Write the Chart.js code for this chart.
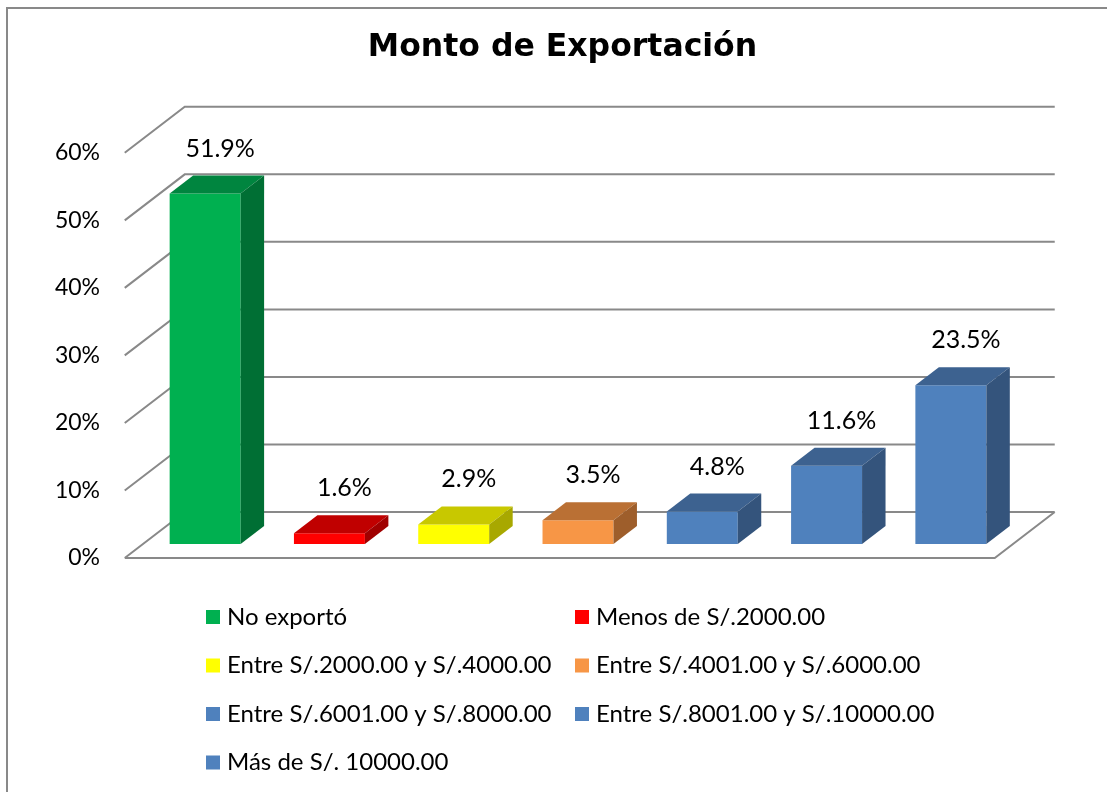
<html>
<head>
	<script src="https://cdn.jsdelivr.net/npm/chart.js@4/dist/chart.umd.min.js"></script>
	<style>
		body { margin: 0; background: #fff; }
	</style>
</head>
<body>
	<div style="width: 1107px; height: 792px">
		<canvas id="myChart"></canvas>
	</div>
</body>
<script>

const categories = [
  'No exportó',
  'Menos de S/.2000.00',
  'Entre S/.2000.00 y S/.4000.00',
  'Entre S/.4001.00 y S/.6000.00',
  'Entre S/.6001.00 y S/.8000.00',
  'Entre S/.8001.00 y S/.10000.00',
  'Más de S/. 10000.00'
];
const values = [51.9, 1.6, 2.9, 3.5, 4.8, 11.6, 23.5];
const yTicks = [0, 10, 20, 30, 40, 50, 60];

// front / top / side face of each 3d bar
const frontColors = ['#00B050', '#FF0000', '#FFFF00', '#F79646', '#4F81BD', '#4F81BD', '#4F81BD'];
const topColors = ['#00853F', '#C00000', '#C8C800', '#BA7034', '#3D6290', '#3D6290', '#3D6290'];
const sideColors = ['#006F34', '#A00000', '#A8A800', '#9E5E2B', '#34547C', '#34547C', '#34547C'];

const gridColor = '#898989';
const txtFont = 'Lato, "Open Sans", sans-serif';

// depth of the whole floor, and where the bars sit inside it
const depth = { x: 60, y: -46 };
const barFront = 14 / 46;
const barDepth = 18 / 46;

const box3d = {
  id: 'box3d',
  beforeDraw(chart) {
    const ctx = chart.ctx;
    ctx.save();
    ctx.strokeStyle = gridColor;
    ctx.lineWidth = 2;
    ctx.beginPath();
    ctx.moveTo(7, 800);
    ctx.lineTo(7, 8);
    ctx.lineTo(1107, 8);
    ctx.stroke();
    ctx.restore();
  },
  beforeDatasetsDraw(chart) {
    const ctx = chart.ctx;
    const area = chart.chartArea;
    const y = chart.scales.y;
    const fx = -barFront * depth.x, fy = -barFront * depth.y;
    const bx = (1 - barFront) * depth.x, by = (1 - barFront) * depth.y;
    ctx.save();
    ctx.strokeStyle = gridColor;
    ctx.lineWidth = 2;
    ctx.beginPath();
    yTicks.forEach(v => {
      const py = y.getPixelForValue(v);
      ctx.moveTo(area.left + fx, py + fy);
      ctx.lineTo(area.left + bx, py + by);
      ctx.lineTo(area.right + bx, py + by);
    });
    const p0 = y.getPixelForValue(0);
    ctx.moveTo(area.left + fx, p0 + fy);
    ctx.lineTo(area.right + fx, p0 + fy);
    ctx.lineTo(area.right + bx, p0 + by);
    ctx.stroke();
    ctx.restore();
  },
  afterDatasetsDraw(chart) {
    const ctx = chart.ctx;
    const dx = barDepth * depth.x, dy = barDepth * depth.y;
    const bars = chart.getDatasetMeta(0).data;
    ctx.save();
    bars.forEach((bar, i) => {
      const l = bar.x - bar.width / 2, r = bar.x + bar.width / 2;
      const t = bar.y, b = bar.base;
      ctx.fillStyle = topColors[i];
      ctx.beginPath();
      ctx.moveTo(l, t);
      ctx.lineTo(l + dx, t + dy);
      ctx.lineTo(r + dx, t + dy);
      ctx.lineTo(r, t);
      ctx.closePath();
      ctx.fill();
      ctx.fillStyle = sideColors[i];
      ctx.beginPath();
      ctx.moveTo(r, t);
      ctx.lineTo(r + dx, t + dy);
      ctx.lineTo(r + dx, b + dy);
      ctx.lineTo(r, b);
      ctx.closePath();
      ctx.fill();

      ctx.fillStyle = '#000';
      ctx.font = '25px ' + txtFont;
      ctx.textAlign = 'center';
      ctx.textBaseline = 'middle';
      ctx.fillText(values[i].toFixed(1) + '%', bar.x + 15, t + dy - 27);
    });

    // legend, two columns
    ctx.font = '24px ' + txtFont;
    ctx.textAlign = 'left';
    ctx.textBaseline = 'middle';
    categories.forEach((c, i) => {
      const x = i % 2 === 0 ? 206 : 575;
      const yy = 617 + Math.floor(i / 2) * 48.5;
      ctx.fillStyle = frontColors[i];
      ctx.fillRect(x, yy - 7, 14, 14);
      ctx.fillStyle = '#000';
      ctx.fillText(c, x + 21, yy);
    });
    ctx.restore();
  }
};

const data = {
  labels: categories,
  datasets: [
    {
      label: 'Monto de Exportación',
      data: values,
      backgroundColor: frontColors,
      borderWidth: 0,
      barPercentage: 0.571,
      categoryPercentage: 1
    }
  ]
};

const config = {
  type: 'bar',
  data: data,
  options: {
    maintainAspectRatio: false,
    responsive: true,
    animation: false,
    layout: {
      padding: { left: 18, top: 0, right: 0, bottom: 248 }
    },
    scales: {
      x: {
        display: false
      },
      y: {
        min: 0,
        max: 60,
        grid: { display: false, drawTicks: false },
        border: { display: false },
        ticks: {
          stepSize: 10,
          padding: 43,
          labelOffset: 14,
          color: '#000',
          font: { family: txtFont, size: 23 },
          callback: v => v + '%'
        },
        afterFit: s => { s.width = 125; }
      },
      // empty right margin for the 3d depth
      yRight: {
        position: 'right',
        grid: { display: false, drawTicks: false },
        border: { display: false },
        ticks: { display: false },
        afterFit: s => { s.width = 94; }
      }
    },
    plugins: {
      legend: { display: false },
      tooltip: { enabled: false },
      title: {
        display: true,
        text: 'Monto de Exportación',
        color: '#000',
        font: { family: '"DejaVu Sans", sans-serif', size: 31.5, weight: 'bold' },
        padding: { top: 29, bottom: 72 }
      }
    }
  },
  plugins: [box3d]
};
var ctx = document.getElementById('myChart');
var myChart = new Chart(ctx, config);

</script>
</html>
